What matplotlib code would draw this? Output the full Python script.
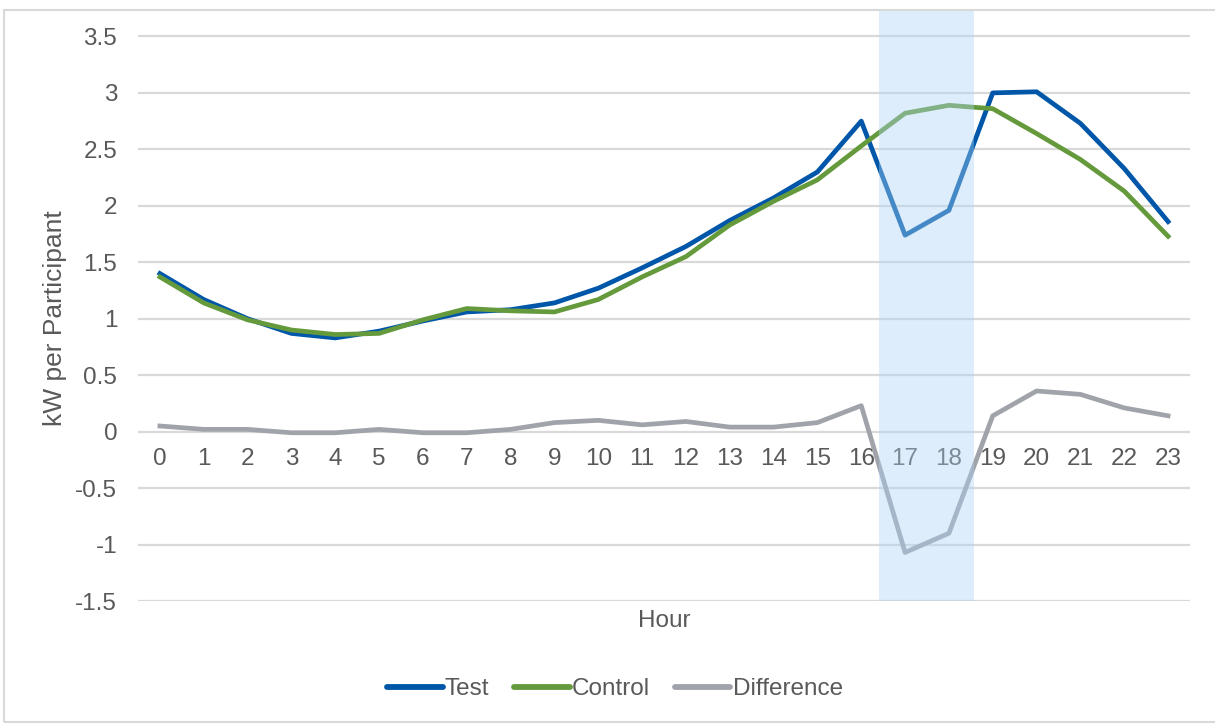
import matplotlib
matplotlib.use("Agg")
import matplotlib.pyplot as plt
from matplotlib.patches import Rectangle
from matplotlib.lines import Line2D

hours = list(range(24))
test = [1.40, 1.17, 1.00, 0.87, 0.83, 0.89, 0.98, 1.06, 1.08, 1.14, 1.27, 1.45,
        1.64, 1.87, 2.07, 2.30, 2.75, 1.74, 1.96, 3.00, 3.01, 2.73, 2.33, 1.86]
control = [1.37, 1.14, 0.99, 0.90, 0.86, 0.87, 0.99, 1.09, 1.07, 1.06, 1.17, 1.37,
           1.55, 1.83, 2.04, 2.23, 2.53, 2.82, 2.89, 2.86, 2.64, 2.41, 2.13, 1.73]
difference = [0.05, 0.02, 0.02, -0.01, -0.01, 0.02, -0.01, -0.01, 0.02, 0.08, 0.10, 0.06,
              0.09, 0.04, 0.04, 0.08, 0.23, -1.07, -0.90, 0.14, 0.36, 0.33, 0.21, 0.14]
event_window = (16.4, 18.57)
y_ticks = [-1.5, -1.0, -0.5, 0.0, 0.5, 1.0, 1.5, 2.0, 2.5, 3.0, 3.5]
y_tick_labels = ["-1.5", "-1", "-0.5", "0", "0.5", "1", "1.5", "2", "2.5", "3", "3.5"]

plt.rcParams["font.family"] = ["Liberation Sans", "DejaVu Sans"]
TXT = "#595959"
FS = 17.5
LW = 3.4
C_TEST = "#0056A8"
C_CTRL = "#659A3C"
C_DIFF = "#A0A3A9"

W, H = 1215, 723
fig = plt.figure(figsize=(W / 100, H / 100), dpi=100)

# outer chart frame
fig.patches.append(Rectangle((4 / W, 0.002), 1.2, (722 - 9) / H - 0.002,
                             transform=fig.transFigure, fill=False,
                             edgecolor="#D9D9D9", linewidth=1.5))

left, right, top, bottom = 138, 1190, 9, 601
ax = fig.add_axes([left / W, (H - bottom) / H, (right - left) / W, (bottom - top) / H])
ax.set_xlim(-0.5, 23.5)
ax.set_ylim(-1.5, 3.743)
for s in ax.spines.values():
    s.set_visible(False)
ax.set_xticks([])
ax.set_yticks(y_ticks)
ax.set_yticklabels(y_tick_labels, fontsize=FS, color=TXT)
ax.tick_params(axis="y", length=0, pad=15)
for y in y_ticks:
    ax.axhline(y, color="#D9D9D9", linewidth=1.6, zorder=1)

# category labels sit along the zero line
for h in hours:
    ax.annotate(str(h), xy=(h, 0), xytext=(0, -20), textcoords="offset points",
                ha="center", va="center", fontsize=FS, color=TXT, zorder=3)

ax.plot(hours, difference, color=C_DIFF, linewidth=LW, zorder=3, solid_joinstyle="round")
ax.plot(hours, test, color=C_TEST, linewidth=LW, zorder=3, solid_joinstyle="round")
ax.plot(hours, control, color=C_CTRL, linewidth=LW, zorder=3, solid_joinstyle="round")

# event window shading laid over the series
ax.axvspan(event_window[0], event_window[1], ymin=0, ymax=1,
           facecolor="#ACD4F5", alpha=0.4, edgecolor="none", zorder=5)

fig.text(55 / W, (H - 318) / H, "kW per Participant", rotation=90, ha="center",
         va="center", fontsize=19, color=TXT)
fig.text((left + right) / 2 / W, (H - 621) / H, "Hour", ha="center", va="center",
         fontsize=FS, color=TXT)

handles = [Line2D([], [], color=c, linewidth=4.2, solid_capstyle="round")
           for c in (C_TEST, C_CTRL, C_DIFF)]
leg = fig.legend(handles, ["Test", "Control", "Difference"], loc="center",
                 bbox_to_anchor=(0.506, (H - 689) / H), ncol=3, frameon=False,
                 fontsize=FS, handlelength=2.3, handletextpad=0.1, columnspacing=1.0)
for t in leg.get_texts():
    t.set_color(TXT)

fig.savefig("out.png", dpi=100)
